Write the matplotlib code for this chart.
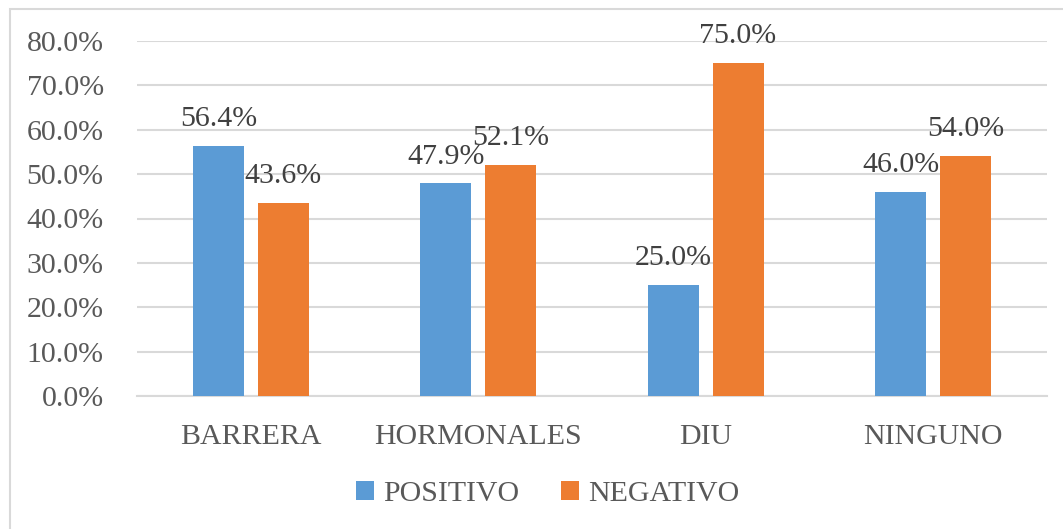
import matplotlib.pyplot as plt
import numpy as np
from matplotlib.patches import Rectangle
from matplotlib.ticker import FuncFormatter

categories = ["BARRERA", "HORMONALES", "DIU", "NINGUNO"]
positivo = [0.564, 0.479, 0.250, 0.460]
negativo = [0.436, 0.521, 0.750, 0.540]
series_names = ["POSITIVO", "NEGATIVO"]
yticks = [0.0, 0.1, 0.2, 0.3, 0.4, 0.5, 0.6, 0.7, 0.8]

BLUE = "#5b9bd5"
ORANGE = "#ed7d31"
GRID = "#d9d9d9"

plt.rcParams["font.family"] = ["Liberation Serif", "DejaVu Serif"]

fig = plt.figure(figsize=(10.63, 5.29), dpi=100)
fig.patches.append(Rectangle((10 / 1063, -0.01), 1.2, 1 - 9 / 529 + 0.01,
                             transform=fig.transFigure, fill=False,
                             edgecolor=GRID, linewidth=1.5))

ax = fig.add_axes([137 / 1063, 1 - 396 / 529, (1047 - 137) / 1063, 355 / 529])

x = np.arange(len(categories))
w = 0.224
off = 0.142
b1 = ax.bar(x - off, positivo, w, color=BLUE, label=series_names[0], zorder=3)
b2 = ax.bar(x + off, negativo, w, color=ORANGE, label=series_names[1], zorder=3)

for bars in (b1, b2):
    ax.bar_label(bars, labels=[f"{v * 100:.1f}%" for v in bars.datavalues],
                 padding=10, fontsize=21.5, color="#404040")

ax.set_xlim(-0.5, len(categories) - 0.5)
ax.set_ylim(0, 0.8)
ax.set_yticks(yticks)
ax.yaxis.set_major_formatter(FuncFormatter(lambda v, p: f"{v * 100:.1f}%"))
ax.set_xticks(x)
ax.set_xticklabels(categories)
ax.tick_params(axis="both", length=0, labelsize=21.5, colors="#595959")
ax.tick_params(axis="y", pad=24)
ax.tick_params(axis="x", pad=20)
ax.grid(axis="y", color=GRID, linewidth=1.5, zorder=0)
for s in ["top", "right", "left"]:
    ax.spines[s].set_visible(False)
ax.spines["bottom"].set_color(GRID)
ax.spines["bottom"].set_linewidth(1.5)

fig.legend(loc="center", bbox_to_anchor=(0.515, 1 - 494 / 529), ncol=2,
           frameon=False, fontsize=21.5, handlelength=0.6, handleheight=0.6,
           handletextpad=0.3, columnspacing=1.4, labelcolor="#595959")

fig.savefig("out.png", dpi=100)
